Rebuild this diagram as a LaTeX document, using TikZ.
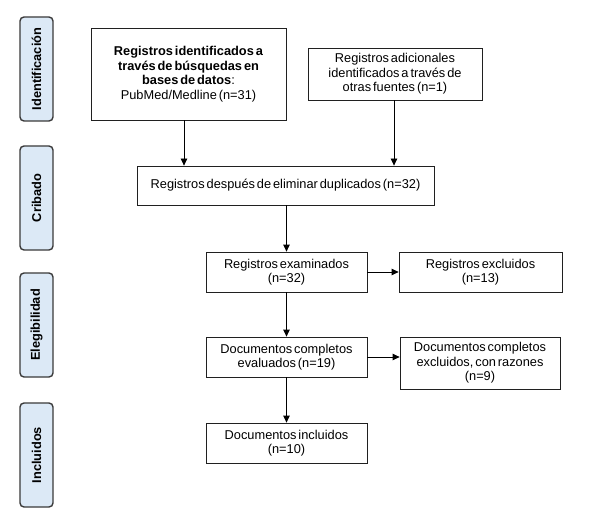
\documentclass[tikz,border=0pt]{standalone}
\usepackage{fontspec}
\setmainfont{Liberation Sans}
\usetikzlibrary{arrows.meta}
\definecolor{sidefill}{HTML}{DCE9F6}
\definecolor{sideline}{HTML}{3A3A3A}
\definecolor{boxline}{HTML}{202020}
\newcommand{\boxfont}{\fontsize{12.8}{14.5}\selectfont\spaceskip=0.15em plus 0.05em minus 0.05em\relax}
\tikzset{
  phase/.style={draw=sideline, line width=1.4pt, fill=sidefill, rounded corners=4pt,
    minimum width=33pt, minimum height=104pt, inner sep=0pt},
  phasetext/.style={rotate=90, font=\boxfont\bfseries},
  box/.style={draw=boxline, line width=0.8pt, fill=white, inner sep=1pt, align=center,
    font=\boxfont},
  arr/.style={draw=black, line width=0.8pt, -{Triangle[length=7pt,width=6.5pt]}}
}
\begin{document}
\begin{tikzpicture}[x=1pt,y=-1pt]
\useasboundingbox[fill=white] (0,0) rectangle (596,521);
% phase labels
\node[phase] (pid) at (36.5,69) {};
\node[phasetext] (tid) at (pid.center) {Identificación};
\node[phase] (pcr) at (36.5,198) {};
\node[phasetext] (tcr) at (pcr.center) {Cribado};
\node[phase] (pel) at (36.5,325) {};
\node[phasetext] (tel) at (pel.center) {Elegibilidad};
\node[phase] (pin) at (36.5,455) {};
\node[phasetext] (tin) at (pin.center) {Incluidos};
% boxes
\node[box, minimum width=195pt, minimum height=92pt] (b1) at (188.5,74)
  {\textbf{Registros identificados a}\\\textbf{través de búsquedas en}\\\textbf{bases de datos}:\\PubMed/Medline (n=31)};
\node[box, minimum width=174pt, minimum height=52pt] (b2) at (395,74)
  {Registros adicionales\\identificados a través de\\otras fuentes (n=1)};
\node[box, minimum width=297pt, minimum height=39pt] (b3) at (285.5,185.5)
  {Registros después de eliminar duplicados (n=32)};
\node[box, minimum width=161pt, minimum height=40pt] (b4) at (286.5,272)
  {Registros examinados\\(n=32)};
\node[box, minimum width=163pt, minimum height=40pt] (b5) at (480.5,272)
  {Registros excluidos\\(n=13)};
\node[box, minimum width=161pt, minimum height=40pt] (b6) at (286.5,357)
  {Documentos completos\\evaluados (n=19)};
\node[box, minimum width=160pt, minimum height=52pt] (b7) at (480,363)
  {Documentos completos\\excluidos, con razones\\(n=9)};
\node[box, minimum width=161pt, minimum height=40pt] (b8) at (286.5,443)
  {Documentos incluidos\\(n=10)};
% connectors
\draw[arr] ([xshift=-4.5pt]b1.south) -- ([xshift=-4.5pt]b1.south |- b3.north);
\draw[arr] ([xshift=-1pt]b2.south) -- ([xshift=-1pt]b2.south |- b3.north);
\draw[arr] (b4.north |- b3.south) -- (b4.north);
\draw[arr] (b4.east) -- (b5.west);
\draw[arr] (b4.south) -- (b6.north);
\draw[arr] (b6.east) -- (b6.east -| b7.west);
\draw[arr] (b6.south) -- (b8.north);
\end{tikzpicture}
\end{document}
